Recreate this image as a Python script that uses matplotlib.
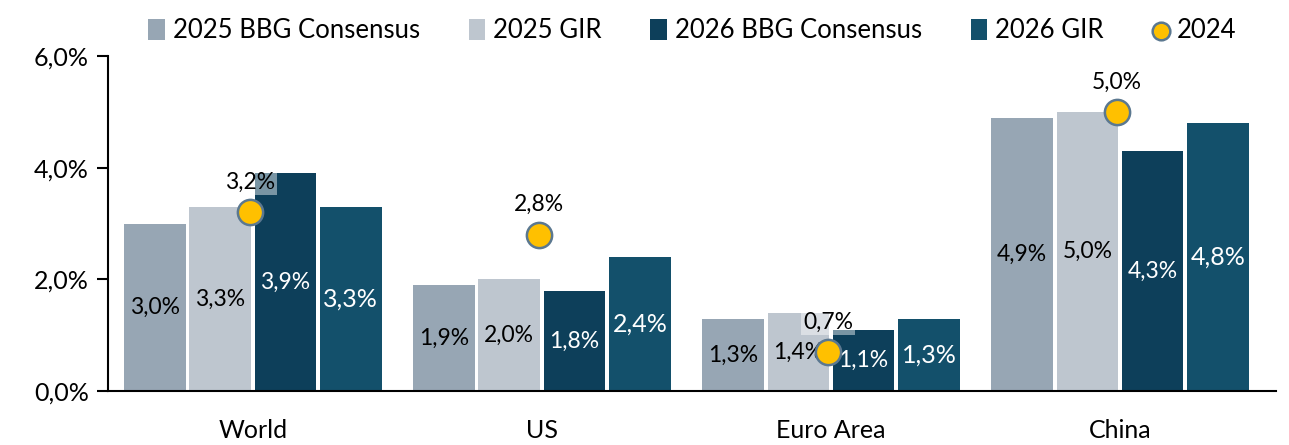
import matplotlib.pyplot as plt
import numpy as np

plt.rcParams['font.family'] = ['Lato', 'DejaVu Sans']

regions = ['World', 'US', 'Euro Area', 'China']
bbg_2025 = [3.0, 1.9, 1.3, 4.9]
gir_2025 = [3.3, 2.0, 1.4, 5.0]
bbg_2026 = [3.9, 1.8, 1.1, 4.3]
gir_2026 = [3.3, 2.4, 1.3, 4.8]
actual_2024 = [3.2, 2.8, 0.7, 5.0]

series = [
    ('2025 BBG Consensus', bbg_2025, '#97a6b4', 'black', 16.5),
    ('2025 GIR', gir_2025, '#bec6cf', 'black', 16.5),
    ('2026 BBG Consensus', bbg_2026, '#0d3f5a', 'white', 16.5),
    ('2026 GIR', gir_2026, '#13506b', 'white', 18),
]

def pct(v):
    return f'{v:.1f}%'.replace('.', ',')

fig, ax = plt.subplots(figsize=(12.89, 4.45), dpi=100)
fig.subplots_adjust(left=0.084, right=0.99, top=0.874, bottom=0.121)

x = np.arange(len(regions))
step = 0.226
width = 0.2125
for i, (name, vals, color, tcolor, fs) in enumerate(series):
    pos = x + (i - 1.5) * step
    bars = ax.bar(pos, vals, width, color=color, label=name, zorder=2)
    for b, v in zip(bars, vals):
        ax.text(b.get_x() + b.get_width() / 2, v / 2, pct(v), ha='center', va='center',
                color=tcolor, fontsize=fs, zorder=3)

ax.scatter(x - 0.01, actual_2024, s=330, color='#ffc000', edgecolors='#5b7890', linewidths=1.8,
           zorder=5, label='2024')
for xi, v in zip(x - 0.01, actual_2024):
    ax.annotate(pct(v), (xi, v), xytext=(0, 14), textcoords='offset points',
                ha='center', va='bottom', fontsize=16.5, zorder=4,
                bbox=dict(boxstyle='square,pad=0.1', facecolor='white', edgecolor='none', alpha=0.45))

ax.set_xlim(-0.5, 3.54)
ax.set_ylim(0, 6)
ax.set_yticks([0, 2, 4, 6])
ax.set_yticklabels([pct(t) for t in [0, 2, 4, 6]], fontsize=18)
ax.set_xticks(x)
ax.set_xticklabels(regions, fontsize=18)
ax.tick_params(axis='x', length=0, pad=20)
ax.tick_params(axis='y', length=8, width=1.5, direction='out', pad=6)
for s in ['top', 'right']:
    ax.spines[s].set_visible(False)
ax.spines['left'].set_linewidth(1.5)
ax.spines['bottom'].set_linewidth(1.5)

handles, labels = ax.get_legend_handles_labels()
order = [1, 2, 3, 4, 0]
ax.legend([handles[k] for k in order], [labels[k] for k in order],
          loc='lower center', bbox_to_anchor=(0.5, 1.0), ncol=5, frameon=False, fontsize=18.5,
          handlelength=0.65, handleheight=0.85, columnspacing=1.9, handletextpad=0.3,
          borderaxespad=0.1, markerscale=0.7)

plt.savefig('out.png', dpi=100)
